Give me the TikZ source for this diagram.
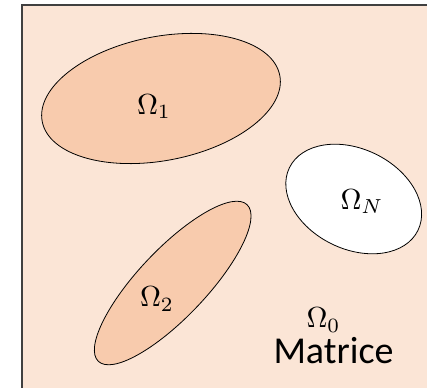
\documentclass[tikz,border=0pt]{standalone}
\usepackage{fontspec}
\usepackage{graphicx}
\newfontfamily\calib{Carlito}
\usetikzlibrary{shapes.geometric}
\definecolor{bgpeach}{HTML}{FBE5D6}
\definecolor{incl}{HTML}{F8CBAD}
\definecolor{frame}{HTML}{404040}
\tikzset{
  region/.style={ellipse, draw=black, line width=0.8pt, inner sep=0pt},
  lbl/.style={inner sep=0pt},
}
\newcommand{\bigom}[1]{\scalebox{2.9}{$\Omega_{#1}$}}
\begin{document}
\begin{tikzpicture}[x=1pt,y=-1pt]
\useasboundingbox (0,0) rectangle (427,387);
\clip (0,0) rectangle (427,387);
\fill[bgpeach] (22,5) rectangle (440,400);
\draw[frame, line width=1.2pt] (22,400) -- (22,5) -- (440,5);
\node[region, fill=incl, minimum width=242pt, minimum height=124pt, rotate=11] (o1) at (161,98.5) {};
\node[region, fill=incl, minimum width=216pt, minimum height=68pt, rotate=46.5] (o2) at (172.7,283) {};
\node[region, fill=white, minimum width=143pt, minimum height=100pt, rotate=-26] (oN) at (353.7,199) {};
\node[lbl] (l1) at (154,106.5) {\bigom{1}};
\node[lbl] (l2) at (157,299) {\bigom{2}};
\node[lbl] (lN) at (362,201.5) {\bigom{N}};
\node[lbl] (l0) at (323.5,320) {\bigom{0}};
\node[inner sep=0pt, font=\calib\fontsize{38}{39}\selectfont] (mat) at (333.5,351) {Matrice};
\end{tikzpicture}
\end{document}
